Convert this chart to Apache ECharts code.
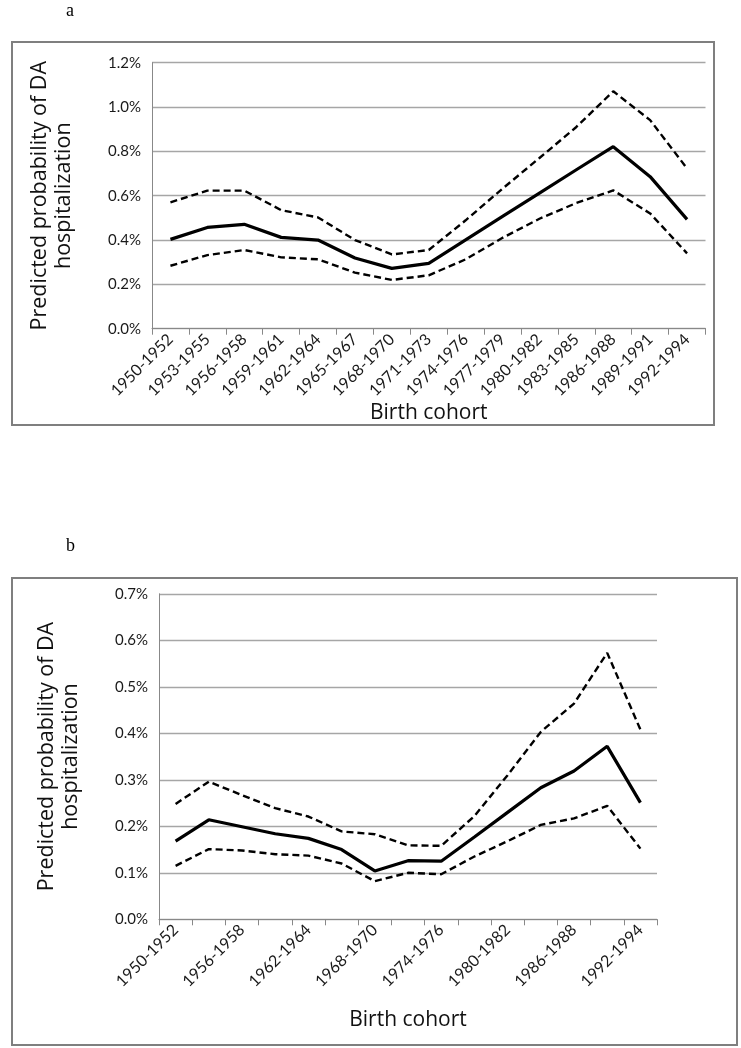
<!DOCTYPE html>
<html>
<head>
<meta charset="utf-8">
<script src="https://cdn.jsdelivr.net/npm/echarts@6/dist/echarts.min.js"></script>
<style>
html,body{margin:0;padding:0;background:#fff;}
#chart{width:741px;height:1048px;}
</style>
</head>
<body>
<div id="chart"></div>
<script>
// Categories (birth cohorts)
const cohorts = ['1950-1952','1953-1955','1956-1958','1959-1961','1962-1964','1965-1967','1968-1970','1971-1973','1974-1976','1977-1979','1980-1982','1983-1985','1986-1988','1989-1991','1992-1994'];

// Panel a: predicted probability (%) with confidence bounds
const aEstimate = [0.403,0.457,0.471,0.412,0.400,0.319,0.272,0.295,0.401,0.507,0.612,0.717,0.821,0.686,0.493];
const aUpper    = [0.570,0.623,0.623,0.535,0.502,0.400,0.335,0.355,0.489,0.632,0.770,0.910,1.071,0.941,0.723];
const aLower    = [0.284,0.332,0.355,0.322,0.313,0.253,0.220,0.241,0.313,0.410,0.496,0.567,0.624,0.520,0.340];

// Panel b
const bEstimate = [0.168,0.214,0.199,0.184,0.174,0.150,0.104,0.126,0.125,0.177,0.230,0.283,0.319,0.372,0.251];
const bUpper    = [0.248,0.296,0.267,0.239,0.221,0.189,0.183,0.159,0.158,0.222,0.310,0.403,0.464,0.573,0.408];
const bLower    = [0.115,0.151,0.148,0.140,0.137,0.120,0.082,0.100,0.097,0.135,0.168,0.203,0.217,0.244,0.152];

const yTitle = 'Predicted probability of DA\nhospitalization';
const xTitle = 'Birth cohort';

const tickFont = {fontFamily:'Lato', fontSize:15, color:'#1a1a1a'};
const xTickFont = {fontFamily:'Lato', fontSize:16, color:'#1a1a1a'};
const gridColor = '#a6a6a6';

function xAxis(gridIndex, interval, gap){
  return {
    type:'category', gridIndex, data:cohorts, boundaryGap:true,
    axisLine:{show:true, lineStyle:{color:'#888', width:1}},
    axisTick:{show:true, length:6, lineStyle:{color:'#888'}, interval:0},
    axisLabel:Object.assign({rotate:45, interval:interval, margin:8}, xTickFont),
    name:xTitle, nameLocation:'middle', nameGap:gap,
    nameTextStyle:{fontFamily:'Open Sans', fontSize:21, color:'#111'}
  };
}
function yAxis(gridIndex, max, interval){
  return {
    type:'value', gridIndex, min:0, max, interval,
    axisLine:{show:true, lineStyle:{color:'#888', width:1}},
    axisTick:{show:false},
    splitLine:{show:true, lineStyle:{color:gridColor, width:1.3}},
    axisLabel:Object.assign({margin:11, formatter:v=>v.toFixed(1)+'%'}, tickFont),
    name:yTitle, nameLocation:'middle', nameGap:76, nameRotate:90,
    nameTextStyle:{fontFamily:'Open Sans', fontSize:21.5, color:'#111', lineHeight:24, align:'center'}
  };
}
function line(data, xi, dashed){
  return {
    type:'line', data, xAxisIndex:xi, yAxisIndex:xi, symbol:'none', smooth:false,
    lineStyle:{color:'#000', width:dashed?2.4:3.2, type:dashed?[7,4]:'solid'},
    animation:false
  };
}

const chart = echarts.init(document.getElementById('chart'), null, {renderer:'canvas'});
chart.setOption({
  animation:false,
  backgroundColor:'#fff',
  grid:[
    {left:152, top:62.7, width:553.5, height:266},
    {left:159, top:593.8, width:498, height:325.5}
  ],
  xAxis:[xAxis(0,0,73), xAxis(1,1,90)],
  yAxis:[yAxis(0,1.2,0.2), yAxis(1,0.7,0.1)],
  series:[
    line(aUpper,0,true), line(aLower,0,true), line(aEstimate,0,false),
    line(bUpper,1,true), line(bLower,1,true), line(bEstimate,1,false)
  ],
  graphic:[
    {type:'rect', shape:{x:12, y:42, width:702, height:383}, style:{fill:null, stroke:'#7f7f7f', lineWidth:2}, z:-1},
    {type:'rect', shape:{x:12, y:578, width:725, height:467}, style:{fill:null, stroke:'#7f7f7f', lineWidth:2}, z:-1},
    {type:'text', left:66, top:2, style:{text:'a', fontFamily:'Liberation Serif', fontSize:18, fill:'#000'}},
    {type:'text', left:66, top:537, style:{text:'b', fontFamily:'Liberation Serif', fontSize:18, fill:'#000'}}
  ]
});
</script>
</body>
</html>
